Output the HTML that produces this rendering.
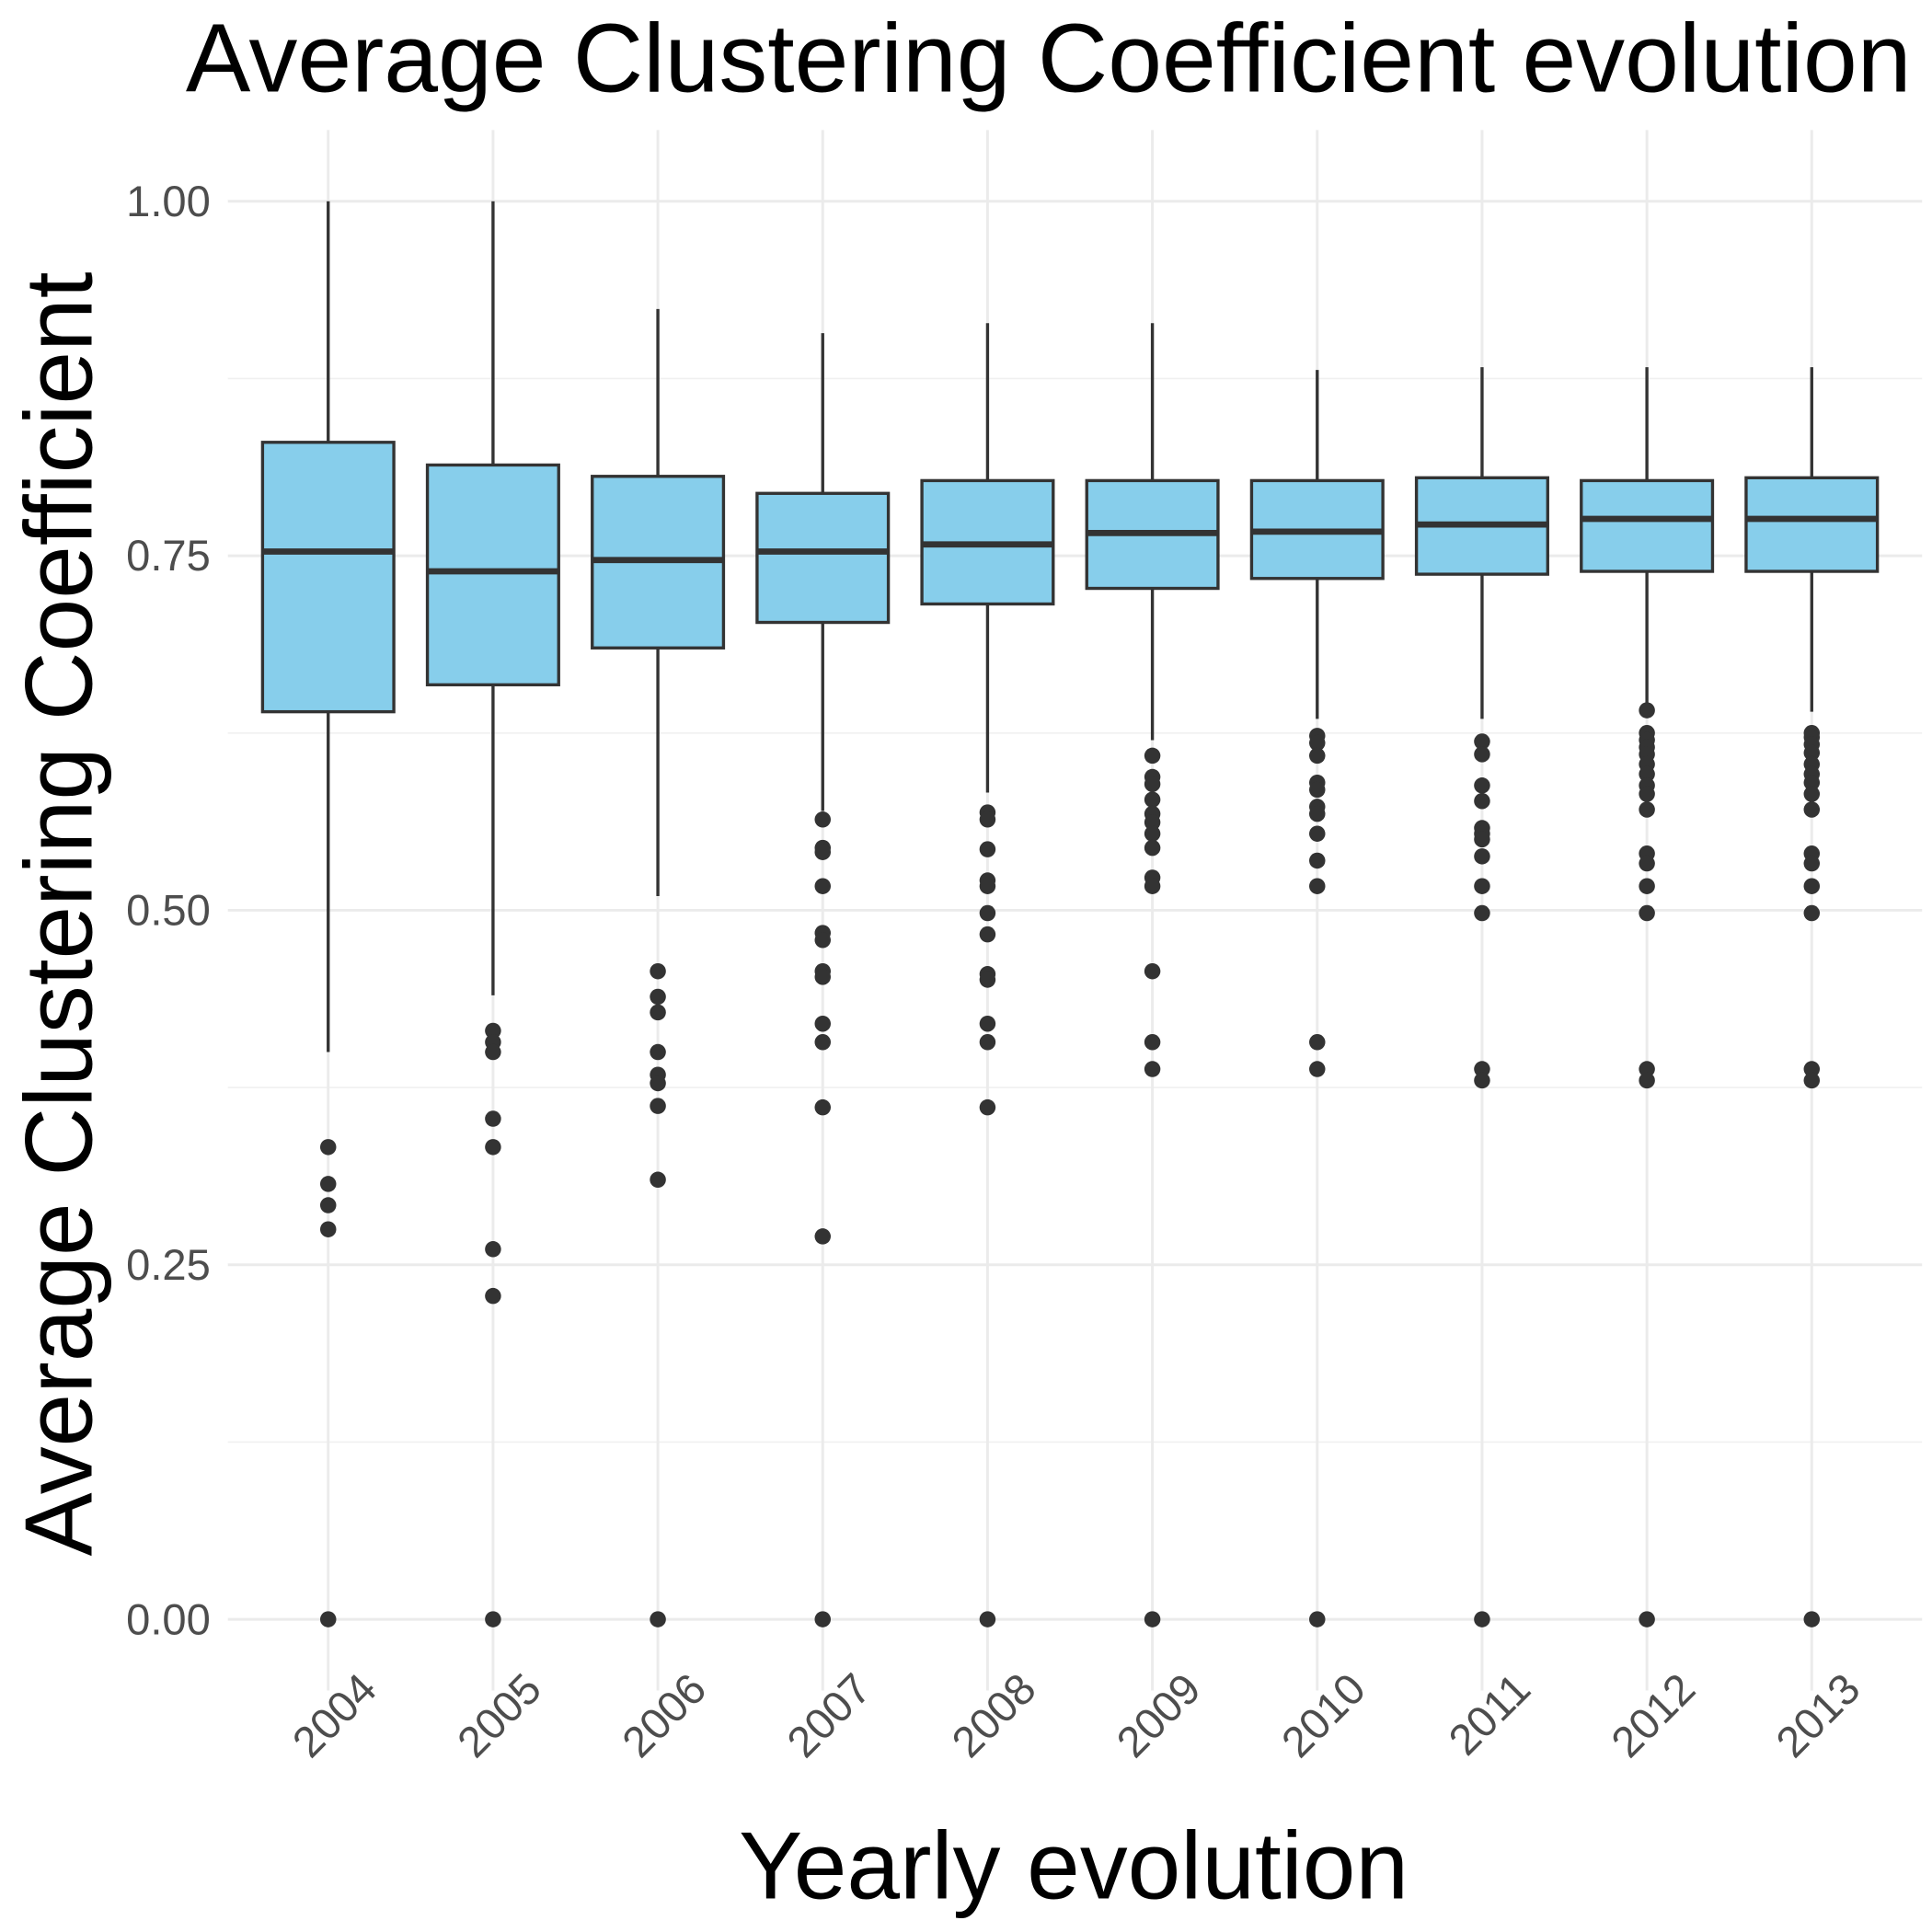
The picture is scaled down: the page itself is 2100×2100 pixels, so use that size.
<!DOCTYPE html>
<html><head><meta charset="utf-8"><style>
html,body{margin:0;padding:0;background:#fff;}
svg{display:block;font-family:"Liberation Sans",Arial,sans-serif;}
</style></head><body>
<svg id="chart" width="2100" height="2100" viewBox="0 0 1560 1560" xmlns="http://www.w3.org/2000/svg">
<rect width="1560" height="1560" fill="#fff"/>
<g id="grid"></g>
<g id="boxes"></g>
<g id="axes"></g>
<text x="150" y="74" font-size="78.5" fill="#000">Average Clustering Coefficient evolution</text>
<text transform="translate(74,738) rotate(-90)" text-anchor="middle" font-size="77" fill="#000">Average Clustering Coefficient</text>
<text x="867" y="1533" text-anchor="middle" font-size="77" fill="#000">Yearly evolution</text>
</svg>
<script>
const years=["2004","2005","2006","2007","2008","2009","2010","2011","2012","2013"];
const whiskerHigh=[1.0,1.0,0.924,0.907,0.914,0.914,0.881,0.883,0.883,0.883];
const q3=[0.830,0.814,0.806,0.794,0.803,0.803,0.803,0.805,0.803,0.805];
const medians=[0.753,0.739,0.747,0.753,0.758,0.766,0.767,0.772,0.776,0.776];
const q1=[0.640,0.659,0.685,0.703,0.716,0.727,0.734,0.737,0.739,0.739];
const whiskerLow=[0.400,0.440,0.510,0.570,0.583,0.620,0.635,0.635,0.645,0.640];
const outliers=[
[0.333,0.307,0.292,0.275,0],
[0.415,0.407,0.400,0.353,0.333,0.261,0.228,0],
[0.457,0.439,0.428,0.400,0.384,0.378,0.362,0.310,0],
[0.564,0.544,0.541,0.517,0.484,0.479,0.457,0.453,0.420,0.407,0.361,0.270,0],
[0.569,0.564,0.543,0.521,0.517,0.498,0.483,0.455,0.451,0.420,0.407,0.361,0],
[0.609,0.594,0.589,0.578,0.568,0.562,0.554,0.544,0.523,0.517,0.457,0.407,0.388,0],
[0.623,0.618,0.609,0.590,0.585,0.573,0.568,0.554,0.535,0.517,0.407,0.388,0],
[0.619,0.610,0.588,0.577,0.558,0.554,0.550,0.538,0.517,0.498,0.388,0.380,0],
[0.641,0.625,0.620,0.615,0.610,0.603,0.596,0.588,0.582,0.571,0.540,0.533,0.517,0.498,0.388,0.380,0],
[0.625,0.622,0.617,0.611,0.603,0.596,0.590,0.582,0.571,0.540,0.533,0.517,0.498,0.388,0.380,0]
];
const yTicks=[0,0.25,0.5,0.75,1.0];
const yTickLabels=["0.00","0.25","0.50","0.75","1.00"];
const yMinor=[0.125,0.375,0.625,0.875];

const NS="http://www.w3.org/2000/svg";
const yS=v=>1307.5-v*1145;
const xS=i=>265+i*133.1;
function mk(tag,attrs,parent){const e=document.createElementNS(NS,tag);for(const k in attrs)e.setAttribute(k,attrs[k]);parent.appendChild(e);return e;}
const grid=document.getElementById('grid'),boxes=document.getElementById('boxes'),axes=document.getElementById('axes');
yMinor.forEach(v=>{const l=mk('line',{x1:184,x2:1552,y1:yS(v),y2:yS(v),stroke:'#f0f0f0','stroke-width':1.2},grid);

});
yTicks.forEach((v,i)=>{const l=mk('line',{x1:184,x2:1552,y1:yS(v),y2:yS(v),stroke:'#ebebeb','stroke-width':2.2},grid);


const t=mk('text',{x:170,y:yS(v)+12,'text-anchor':'end','font-size':35,fill:'#4d4d4d'},axes);t.textContent=yTickLabels[i];

});
years.forEach((yr,i)=>{const x=xS(i);
const l=mk('line',{x1:x,x2:x,y1:105,y2:1365,stroke:'#ebebeb','stroke-width':2.2},grid);


const t=mk('text',{transform:`translate(${x+41},${1366}) rotate(-45)`,'text-anchor':'end','font-size':35,fill:'#4d4d4d'},axes);t.textContent=yr;


const g=mk('g',{},boxes);


mk('line',{x1:x,x2:x,y1:yS(whiskerHigh[i]),y2:yS(q3[i]),stroke:'#333','stroke-width':2.5},g);
mk('line',{x1:x,x2:x,y1:yS(q1[i]),y2:yS(whiskerLow[i]),stroke:'#333','stroke-width':2.5},g);
mk('rect',{x:x-53,y:yS(q3[i]),width:106,height:yS(q1[i])-yS(q3[i]),fill:'#87ceeb',stroke:'#333','stroke-width':2.5},g);
mk('line',{x1:x-53,x2:x+53,y1:yS(medians[i]),y2:yS(medians[i]),stroke:'#333','stroke-width':5},g);
outliers[i].forEach(v=>{const c=mk('circle',{cx:x,cy:yS(v),r:6.5,fill:'#333'},g);

});
});
</script>
</body></html>
